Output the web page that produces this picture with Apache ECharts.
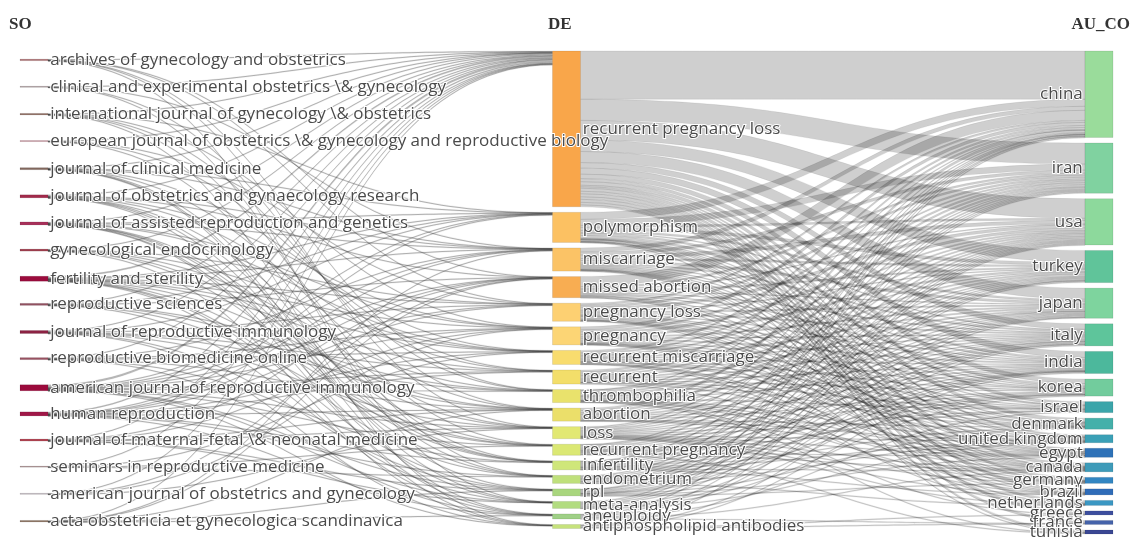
<!DOCTYPE html>
<html><head><meta charset="utf-8">
<script src="https://cdn.jsdelivr.net/npm/echarts@6/dist/echarts.min.js"></script>
<style>html,body{margin:0;padding:0;background:#fff}#c{width:1133px;height:537px}</style>
</head><body><div id="c"></div>
<script>
// ---- data ----
const soNames = [
  'archives of gynecology and obstetrics',
  'clinical and experimental obstetrics \\& gynecology',
  'international journal of gynecology \\& obstetrics',
  'european journal of obstetrics \\& gynecology and reproductive biology',
  'journal of clinical medicine',
  'journal of obstetrics and gynaecology research',
  'journal of assisted reproduction and genetics',
  'gynecological endocrinology',
  'fertility and sterility',
  'reproductive sciences',
  'journal of reproductive immunology',
  'reproductive biomedicine online',
  'american journal of reproductive immunology',
  'human reproduction',
  'journal of maternal-fetal \\& neonatal medicine',
  'seminars in reproductive medicine',
  'american journal of obstetrics and gynecology',
  'acta obstetricia et gynecologica scandinavica'
];
const soColors = ['#ad6f72','#a59496','#8e6c60','#c38591','#84695f','#a22a4b','#a8305a','#a1404f','#9b0c3d','#935262','#8c2243','#9a5262','#9b0a3c','#a01848','#b24452','#a88c8e','#bcb2ba','#8b725f'];

const deNames = [
  'recurrent pregnancy loss','polymorphism','miscarriage','missed abortion','pregnancy loss',
  'pregnancy','recurrent miscarriage','recurrent','thrombophilia','abortion','loss',
  'recurrent pregnancy','infertility','endometrium','rpl','meta-analysis','aneuploidy',
  'antiphospholipid antibodies'
];
const deColors = ['#f9a64a','#fcc162','#fbc366','#f8ad52','#fdd072','#fcd575','#f8dc6e','#f3de6a','#e9e26c','#ebdf6a','#e2e873','#dbe874','#cfe67a','#bfe07c','#a9d67e','#b2dc80','#9fd086','#c6e27c'];

const auNames = [
  'china','iran','usa','turkey','japan','italy','india','korea','israel','denmark',
  'united kingdom','egypt','canada','germany','brazil','netherlands','greece','france','tunisia'
];
const auColors = ['#9adc9b','#80d2a0','#8dd99c','#60c49a','#7ed49e','#5ec59b','#4cb89c','#72cc9d','#3ba5aa','#45b0aa','#3aa0b6','#2e72b8','#3e9bb9','#3286c2','#2f6cb8','#3b97c3','#3c4e9e','#4563aa','#3a4793'];

// [SO index, DE index, value]
const soDeLinks = [
  [0,0,0.5],[0,3,0.2],[0,4,0.2],[0,8,0.2],[0,10,0.2],[0,15,0.2],
  [1,0,0.4],[1,2,0.2],[1,9,0.2],[1,13,0.2],
  [2,0,0.5],[2,1,0.2],[2,5,0.2],[2,8,0.2],[2,11,0.2],[2,17,0.2],
  [3,0,0.4],[3,4,0.2],[3,7,0.2],[3,12,0.2],
  [4,0,0.6],[4,1,0.2],[4,2,0.2],[4,6,0.2],[4,9,0.2],[4,13,0.2],[4,15,0.2],[4,16,0.2],
  [5,0,1.0],[5,2,0.3],[5,3,0.3],[5,5,0.3],[5,7,0.3],[5,10,0.2],[5,12,0.2],[5,14,0.2],[5,17,0.2],
  [6,0,0.8],[6,1,0.3],[6,2,0.2],[6,5,0.2],[6,6,0.2],[6,11,0.3],[6,12,0.3],[6,13,0.2],[6,15,0.2],[6,16,0.3],
  [7,0,0.6],[7,4,0.2],[7,6,0.2],[7,8,0.3],[7,10,0.2],[7,12,0.3],[7,17,0.2],
  [8,0,1.5],[8,1,0.4],[8,2,0.4],[8,4,0.4],[8,5,0.3],[8,6,0.3],[8,7,0.3],[8,9,0.3],[8,11,0.3],[8,13,0.2],[8,14,0.3],[8,16,0.3],
  [9,0,0.6],[9,1,0.3],[9,3,0.2],[9,8,0.3],[9,9,0.2],[9,11,0.2],[9,15,0.2],
  [10,0,1.0],[10,1,0.3],[10,4,0.3],[10,7,0.3],[10,8,0.3],[10,10,0.2],[10,14,0.3],[10,17,0.3],
  [11,0,0.6],[11,2,0.2],[11,5,0.3],[11,6,0.2],[11,9,0.2],[11,12,0.2],[11,16,0.3],
  [12,0,2.0],[12,1,0.5],[12,2,0.4],[12,3,0.3],[12,4,0.4],[12,5,0.3],[12,7,0.4],[12,8,0.3],[12,10,0.3],[12,11,0.3],[12,14,0.3],[12,15,0.2],[12,17,0.3],
  [13,0,1.2],[13,1,0.3],[13,2,0.3],[13,3,0.2],[13,4,0.3],[13,6,0.3],[13,7,0.2],[13,9,0.3],[13,12,0.3],[13,13,0.3],[13,16,0.3],
  [14,0,0.6],[14,3,0.3],[14,5,0.3],[14,9,0.2],[14,10,0.2],[14,14,0.2],[14,15,0.2],
  [15,0,0.4],[15,6,0.2],[15,11,0.2],[15,13,0.2],
  [16,0,0.4],[16,3,0.2],[16,5,0.2],[16,10,0.2],
  [17,0,0.5],[17,2,0.2],[17,3,0.2],[17,9,0.2],[17,14,0.2],[17,16,0.2]
];

// rows: DE keywords, columns: AU countries (same order as auNames)
const deAuValues = [
  [48, 21, 19.5, 11.5, 11, 5.5, 6, 4.5, 3, 3.5, 1.5, 1.5, 3, 2.5, 3, 2.5, 3, 2.5, 2],
  [7, 6, 2, 3, 2, 1, 2, 2.5, 0.5, 0.5, 0.5, 1, 0.5, 0.5, 0.5, 0, 0, 0, 0.5],
  [4, 3, 3.5, 2, 2.5, 1.5, 1, 1, 1, 1, 0.5, 0.5, 0.5, 0.5, 0, 0.5, 0, 0, 0],
  [10, 2, 1, 1.5, 1, 1, 1, 1, 0, 0.5, 0, 1, 0.5, 0, 0.5, 0, 0, 0, 0],
  [2, 2, 3, 1, 1.5, 1.5, 1, 0.5, 1, 1.5, 1, 0.5, 0.5, 0.5, 0, 0.5, 0, 0, 0],
  [3, 2, 2.5, 2, 1.5, 1, 1.5, 1, 1, 0.5, 0.5, 0.5, 0.5, 0, 0.5, 0, 0, 0, 0],
  [2, 1.5, 1.5, 1, 1.5, 1, 1, 1, 0.5, 0.5, 1, 0, 0.5, 0.5, 0, 0.5, 0, 0, 0],
  [2, 2, 1.5, 1.5, 1.5, 1, 1, 1, 0.5, 0.5, 0, 1, 0, 0, 0.5, 0, 0, 0, 0],
  [0.5, 2, 1.5, 2, 0.5, 1.5, 1, 0, 1, 0, 0.5, 0.5, 0.5, 0.5, 0, 0, 0.5, 0, 0.5],
  [2.5, 2, 1.5, 1, 1.5, 1, 1, 1, 0, 0.5, 0.5, 0.5, 0, 0, 0, 0, 0, 0, 0],
  [1, 1, 1.5, 1, 1, 1, 1, 1, 0.5, 0, 0.5, 0.5, 0.5, 0.5, 0.5, 0.5, 0, 0, 0],
  [0.5, 1.5, 1.5, 1, 1, 0.5, 1, 0.5, 1, 0, 0, 1, 0.5, 0, 0, 0, 0, 0, 1],
  [0.5, 1, 1, 1, 1, 1, 0.5, 0.5, 0, 1, 0.5, 0, 0.5, 0, 0.5, 0, 0, 0, 0],
  [1, 1, 1, 0.5, 1, 1, 0.5, 1, 0, 0, 0.5, 0, 0, 0, 0, 0.5, 0, 0, 0],
  [0.5, 1, 1, 1, 0.5, 0.5, 0.5, 0, 0, 1, 0, 0.5, 0, 0.5, 0, 0, 0, 0, 0],
  [1, 1, 1, 1, 0, 1, 1, 0.5, 0, 0, 0.5, 0, 0, 0, 0, 0, 0, 0, 0],
  [0.5, 0, 1, 0, 1, 0, 0, 0, 1, 0, 0, 0, 1, 0, 0, 0, 0, 0.5, 0],
  [0, 0, 0.5, 0, 0, 1, 1, 0, 0, 0, 0, 0, 0, 0, 0, 0, 0.5, 1, 0]
];

const columnTitles = ['SO', 'DE', 'AU_CO'];

// ---- build the sankey ----
const nodes = [];
soNames.forEach((name, i) => nodes.push({
  name, depth: 0, itemStyle: { color: soColors[i] },
  // spread the source column evenly (as the plotly layout of the reference does)
  localY: (i + 0.3) / (soNames.length - 0.2)
}));
deNames.forEach((name, i) => nodes.push({ name, depth: 1, itemStyle: { color: deColors[i] } }));
auNames.forEach((name, i) => nodes.push({ name, depth: 2, itemStyle: { color: auColors[i] } }));

const links = [];
soDeLinks.forEach(([s, t, v]) => links.push({
  source: soNames[s], target: deNames[t], value: v,
  lineStyle: { color: '#333', opacity: 0.35, borderColor: 'rgba(60,60,60,0.35)', borderWidth: 0.6 }
}));
deAuValues.forEach((row, i) => row.forEach((v, j) => {
  if (v > 0) links.push({ source: deNames[i], target: auNames[j], value: v,
    lineStyle: { color: '#000', opacity: 0.19, borderColor: 'rgba(0,0,0,0.55)', borderWidth: 0.6 } });
}));

const titleStyle = { fontFamily: 'Liberation Serif', fontWeight: 'bold', fontSize: 17, color: '#333' };
const chart = echarts.init(document.getElementById('c'), null, { renderer: 'canvas' });
chart.setOption({
  animation: false,
  backgroundColor: '#fff',
  title: [
    { text: columnTitles[0], left: 9, top: 16, padding: 0, textStyle: titleStyle },
    { text: columnTitles[1], left: 548, top: 16, padding: 0, textStyle: titleStyle },
    { text: columnTitles[2], right: 3, top: 16, padding: 0, textStyle: titleStyle }
  ],
  series: [{
    type: 'sankey',
    left: 20, right: 20, top: 51, bottom: 3,
    nodeWidth: 28, nodeGap: 5.5, layoutIterations: 0,
    draggable: false,
    data: nodes, links: links,
    itemStyle: { borderWidth: 0.5, borderColor: 'rgba(0,0,0,0.18)' },
    lineStyle: { curveness: 0.5 },
    label: {
      fontFamily: 'Open Sans', fontSize: 17, color: '#4a4a4a',
      textBorderColor: '#fff', textBorderWidth: 2, distance: 2, position: 'right'
    },
    levels: [
      { depth: 0, label: { position: 'right' } },
      { depth: 1, label: { position: 'right' } },
      { depth: 2, label: { position: 'left' } }
    ],
    emphasis: { disabled: true }
  }]
});
</script></body></html>
